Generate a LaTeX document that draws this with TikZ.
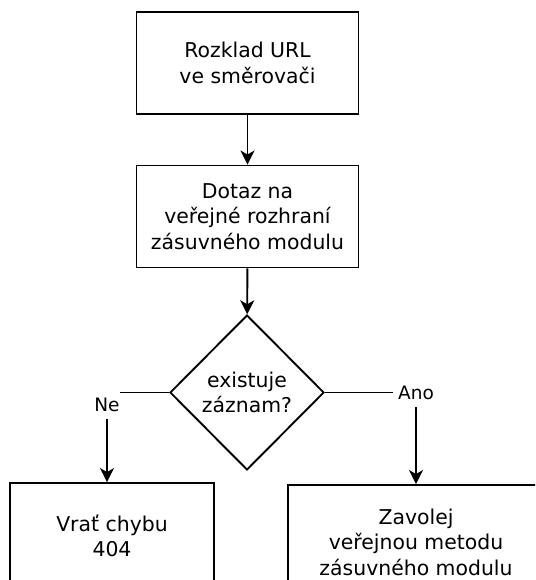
\documentclass[tikz,border=0pt]{standalone}
\usepackage{fontspec}
\setmainfont{DejaVu Sans}
\usetikzlibrary{shapes.geometric,arrows.meta}

\begin{document}
\begin{tikzpicture}[x=1pt,y=-1pt,
  box/.style={draw, line width=1.9pt, align=center, inner sep=0pt,
    font=\fontsize{20.4}{25.5}\selectfont},
  decision/.style={draw, diamond, line width=1.9pt, align=center, inner sep=0pt,
    minimum width=154pt, minimum height=155pt,
    font=\fontsize{20.4}{25.5}\selectfont},
  flow/.style={line width=1.9pt, -{Stealth[length=14pt,width=14pt,inset=4pt]}},
  edgelabel/.style={fill=white, inner ysep=0pt, minimum height=28pt,
    font=\fontsize{18.5}{22}\selectfont}
]
\useasboundingbox (0,0) rectangle (535,580);
\clip (0,0) rectangle (535,580);

% process steps
\node[box, minimum width=222pt, minimum height=102pt] (parse) at (247.5,63)
  {Rozklad URL\\ve směrovači};
\node[box, minimum width=222pt, minimum height=102pt] (query) at (247.5,216.5)
  {Dotaz na\\veřejné rozhraní\\zásuvného modulu};
\node[decision] (exists) at (247,392.5) {existuje\\záznam?};
\node[box, minimum width=204pt, minimum height=106pt] (error) at (112,536)
  {Vrať chybu\\404};
\node[box, minimum width=256pt, minimum height=114pt] (call) at (416,542)
  {Zavolej\\veřejnou metodu\\zásuvného modulu};

% connectors
\draw[flow] (parse) -- (query);
\draw[flow] (query) -- (exists);
\draw[flow] (exists.west) -| ([xshift=-5pt]error.north)
  node[edgelabel, inner xsep=0pt, pos=0.57] {Ne};
\draw[flow] (exists.east) -| (call.north)
  node[edgelabel, inner xsep=5pt, pos=0.5] {Ano};
\end{tikzpicture}
\end{document}
